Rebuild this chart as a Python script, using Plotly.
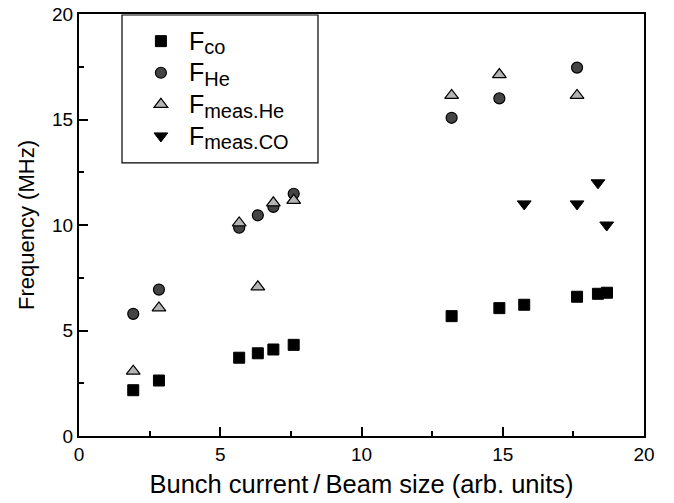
import plotly.graph_objects as go

x_all = [1.92, 2.83, 5.67, 6.33, 6.88, 7.6, 13.19, 14.88, 15.76, 17.63, 18.37, 18.69]
f_co = [2.17, 2.63, 3.71, 3.92, 4.10, 4.32, 5.68, 6.06, 6.22, 6.6, 6.74, 6.79]

x_he = [1.92, 2.83, 5.67, 6.33, 6.88, 7.6, 13.19, 14.88, 17.63]
f_he = [5.79, 6.94, 9.87, 10.46, 10.86, 11.48, 15.08, 16.0, 17.46]
f_meas_he = [3.07, 6.07, 10.1, 7.07, 11.05, 11.17, 16.14, 17.13, 16.14]

x_meas_co = [15.76, 17.63, 18.37, 18.68]
f_meas_co = [11.0, 11.0, 12.0, 10.0]


def lab(sub):
    return ("<span style='font-size:25px'>F</span>"
            "<sub><span style='font-size:20px'>%s</span></sub>" % sub)


fig = go.Figure()
fig.add_trace(go.Scatter(x=x_all, y=f_co, mode="markers", name=lab("co"),
                         marker=dict(symbol="square", size=11, color="black",
                                     line=dict(color="black", width=1))))
fig.add_trace(go.Scatter(x=x_he, y=f_he, mode="markers", name=lab("He"),
                         marker=dict(symbol="circle", size=11, color="#444444",
                                     line=dict(color="black", width=1.2))))
fig.add_trace(go.Scatter(x=x_he, y=f_meas_he, mode="markers", name=lab("meas.He"),
                         marker=dict(symbol="triangle-up", size=12, color="#b4b4b4",
                                     line=dict(color="black", width=1.2))))
fig.add_trace(go.Scatter(x=x_meas_co, y=f_meas_co, mode="markers", name=lab("meas.CO"),
                         marker=dict(symbol="triangle-down", size=12, color="black",
                                     line=dict(color="black", width=1))))

axis_common = dict(showgrid=False, zeroline=False, showline=True, linecolor="black",
                   linewidth=2, mirror=True, ticks="inside", ticklen=9, tickwidth=1.5,
                   tickcolor="black", tickfont=dict(size=19, color="black"),
                   automargin=False,
                   minor=dict(ticks="inside", ticklen=5, tickwidth=1.5, tickcolor="black", dtick=2.5))

fig.update_xaxes(range=[0, 20], dtick=5, tick0=0,
                 title=dict(text="Bunch current\u2009/\u2009Beam size (arb. units)",
                            font=dict(size=25.5, color="black"), standoff=11),
                 **axis_common)
fig.update_yaxes(range=[0, 20], dtick=5, tick0=0,
                 title=dict(text="Frequency (MHz)", font=dict(size=22, color="black"), standoff=11),
                 **axis_common)

fig.update_layout(
    width=674, height=503,
    margin=dict(l=79, r=30, t=14, b=67),
    plot_bgcolor="white", paper_bgcolor="white",
    font=dict(family="Liberation Sans, Arial, sans-serif", color="black"),
    showlegend=True,
    legend=dict(x=0.0954, y=0.985, xanchor="left", yanchor="top",
                borderwidth=0, bgcolor="rgba(0,0,0,0)",
                font=dict(size=22, color="black"), tracegroupgap=0,
                itemwidth=46),
    shapes=[dict(type="rect", xref="paper", yref="paper",
                 x0=0.0761, x1=0.423, y0=0.647, y1=0.9976,
                 line=dict(color="black", width=1.2), fillcolor="rgba(0,0,0,0)",
                 layer="above")],
)

# remove the browser's default 8px body margin so the figure sits at the page origin
fig.write_html("out.html", config={"displayModeBar": False},
               post_script="document.body.style.margin='0';")
